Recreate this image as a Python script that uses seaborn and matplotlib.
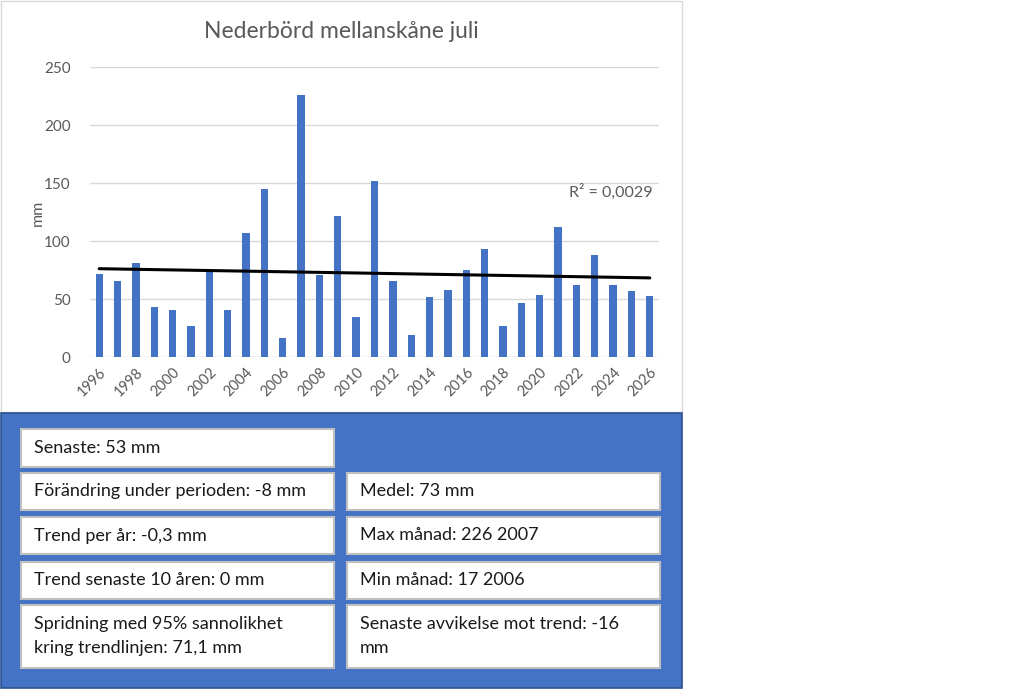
import matplotlib
matplotlib.use("Agg")
import matplotlib.pyplot as plt
from matplotlib.patches import Rectangle
import seaborn as sns
import numpy as np
import pandas as pd

# ---- data ----
years = list(range(1996, 2027))
precip_mm = [72, 66, 81, 43, 41, 27, 74, 41, 107, 145,
             17, 226, 71, 122, 35, 152, 66, 19, 52, 58,
             75, 93, 27, 47, 54, 112, 62, 88, 62, 57, 53]
title = "Nederbörd mellanskåne juli"
y_label = "mm"
r2_label = "R² = 0,0029"
left_boxes = ["Senaste: 53 mm",
              "Förändring under perioden: -8 mm",
              "Trend per år: -0,3 mm",
              "Trend senaste 10 åren: 0 mm",
              "Spridning med 95% sannolikhet\nkring trendlinjen: 71,1 mm"]
right_boxes = [None,
               "Medel: 73 mm",
               "Max månad: 226 2007",
               "Min månad: 17 2006",
               "Senaste avvikelse mot trend: -16\nmm"]

df = pd.DataFrame({"year": years, "mm": precip_mm})

sns.set_theme(style="white")
plt.rcParams["font.family"] = ["Lato", "DejaVu Sans"]

W, H = 1024, 689
fig = plt.figure(figsize=(W / 100, H / 100), dpi=100)
fig.patch.set_facecolor("white")


def fx(x):
    return x / W


def fy(y):
    return 1 - y / H


def prect(x0, y0, x1, y1, **kw):
    r = Rectangle((fx(x0), fy(y1)), fx(x1) - fx(x0), fy(y0) - fy(y1),
                  transform=fig.transFigure, **kw)
    fig.patches.append(r)
    return r


# chart frame
prect(0.5, 0.5, 682, 412, facecolor="none", edgecolor="#D9D9D9", lw=1, zorder=-1)

GRAY = "#595959"
BLUE = "#4472C4"

ax = fig.add_axes([fx(90), fy(357.3), fx(659) - fx(90), fy(67.3) - fy(357.3)])
ax.set_facecolor("none")
sns.barplot(data=df, x="year", y="mm", native_scale=True, width=0.4,
            color=BLUE, saturation=1, linewidth=0, ax=ax, zorder=3)
sns.regplot(data=df, x="year", y="mm", scatter=False, ci=None, truncate=True,
            color="black", line_kws={"lw": 2.2, "zorder": 4}, ax=ax)

ax.set_xlim(1995.5, 2026.5)
ax.set_ylim(0, 250)
ax.set_yticks(np.arange(0, 251, 50))
ax.set_xticks(years[::2])
ax.set_xticklabels([str(y) for y in years[::2]], rotation=45, ha="right",
                   rotation_mode="anchor", fontsize=10.5, color=GRAY)
ax.tick_params(axis="y", labelsize=11, colors=GRAY, length=0, pad=14)
ax.tick_params(axis="x", length=0, pad=6)
ax.grid(axis="y", color="#D9D9D9", lw=1, zorder=0)
ax.set_axisbelow(True)
for s in ax.spines.values():
    s.set_visible(False)
ax.set_xlabel("")
ax.set_ylabel("")
ax.text(2026.15, 143, r2_label, ha="right", va="center", fontsize=11.5, color=GRAY)

fig.text(fx(341), fy(32), title, ha="center", va="center", fontsize=16.5, color=GRAY)
fig.text(fx(38), fy(213), y_label, ha="center", va="center", rotation=90,
         fontsize=11.5, color=GRAY)

# info panel
prect(0.5, 413, 682, 688, facecolor=BLUE, edgecolor="#2F528F", lw=1.2, zorder=1)
rows = [(429.3, 466.7), (472.7, 510), (516.7, 554.3), (561.7, 599), (605, 668.3)]
cols = [(20.7, 334), (346.7, 660)]
FS = 13
for texts, (cx0, cx1) in zip([left_boxes, right_boxes], cols):
    for t, (ry0, ry1) in zip(texts, rows):
        if t is None:
            continue
        prect(cx0, ry0, cx1, ry1, facecolor="white", edgecolor="#BFBFBF",
              lw=1.5, zorder=2)
        if "\n" in t:
            l1, l2 = t.split("\n")
            fig.text(fx(cx0 + 13), fy(624), l1, ha="left", va="center",
                     fontsize=FS, color="#1a1a1a", zorder=3)
            fig.text(fx(cx0 + 13), fy(648), l2, ha="left", va="center",
                     fontsize=FS, color="#1a1a1a", zorder=3)
        else:
            fig.text(fx(cx0 + 13), fy((ry0 + ry1) / 2), t, ha="left",
                     va="center", fontsize=FS, color="#1a1a1a", zorder=3)

fig.savefig("out.png", dpi=100, facecolor="white")
